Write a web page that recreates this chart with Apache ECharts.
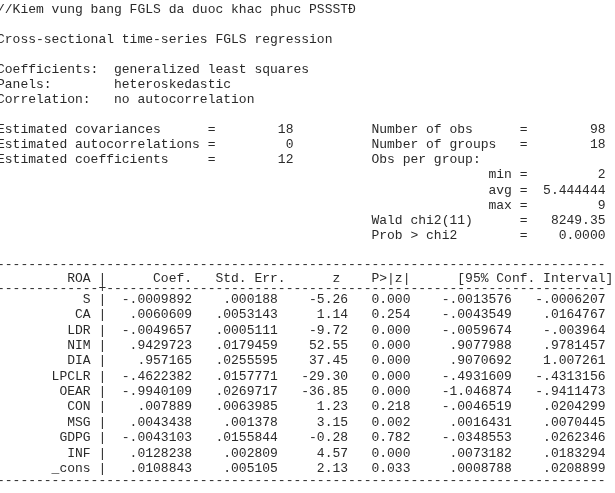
<!DOCTYPE html>
<html><head><meta charset="utf-8">
<script src="https://cdn.jsdelivr.net/npm/echarts@6/dist/echarts.min.js"></script>
<style>html,body{margin:0;padding:0;background:#fff}#c{width:615px;height:493px}</style>
</head><body><div id="c"></div>
<script>
// ---- data ----
const title = "//Kiem vung bang FGLS da duoc khac phuc PSSSTĐ";
const subtitle = "Cross-sectional time-series FGLS regression";
const modelInfo = [["Coefficients:", "generalized least squares"], ["Panels:", "heteroskedastic"], ["Correlation:", "no autocorrelation"]];
const leftStats = [["Estimated covariances", "18"], ["Estimated autocorrelations", "0"], ["Estimated coefficients", "12"]];
const rightStats = [["Number of obs", "98"], ["Number of groups", "18"], ["Obs per group:", null]];
const groupStats = [["min", "2"], ["avg", "5.444444"], ["max", "9"]];
const testStats = [["Wald chi2(11)", "8249.35"], ["Prob > chi2", "0.0000"]];
const depVar = "ROA";
const colHeads = ["Coef.", "Std. Err.", "z", "P>|z|", "[95% Conf. Interval]"];
const vars = ["S", "CA", "LDR", "NIM", "DIA", "LPCLR", "OEAR", "CON", "MSG", "GDPG", "INF", "_cons"];
const coef = ["-.0009892", ".0060609", "-.0049657", ".9429723", ".957165", "-.4622382", "-.9940109", ".007889", ".0043438", "-.0043103", ".0128238", ".0108843"];
const stdErr = [".000188", ".0053143", ".0005111", ".0179459", ".0255595", ".0157771", ".0269717", ".0063985", ".001378", ".0155844", ".002809", ".005105"];
const zVal = ["-5.26", "1.14", "-9.72", "52.55", "37.45", "-29.30", "-36.85", "1.23", "3.15", "-0.28", "4.57", "2.13"];
const pVal = ["0.000", "0.254", "0.000", "0.000", "0.000", "0.000", "0.000", "0.218", "0.002", "0.782", "0.000", "0.033"];
const ciLow = ["-.0013576", "-.0043549", "-.0059674", ".9077988", ".9070692", "-.4931609", "-1.046874", "-.0046519", ".0016431", "-.0348553", ".0073182", ".0008788"];
const ciHigh = ["-.0006207", ".0164767", "-.003964", ".9781457", "1.007261", "-.4313156", "-.9411473", ".0204299", ".0070445", ".0262346", ".0183294", ".0208899"];

// ---- layout ----
const L = (s, n) => s.padEnd(n), R = (s, n) => s.padStart(n);
const lines = [];
const add = (t, y) => lines.push({t, y});
add(title, 10);
add(subtitle, 40);
modelInfo.forEach((m, i) => add(L(m[0], 15) + m[1], 70 + i * 15.1));
for (let i = 0; i < 3; i++) {
  let s = L(leftStats[i][0], 27) + "=" + R(leftStats[i][1], 10) + " ".repeat(10);
  s += rightStats[i][1] === null ? rightStats[i][0] : L(rightStats[i][0], 19) + "=" + R(rightStats[i][1], 10);
  add(s, 130 + i * 15.1);
}
groupStats.forEach((g, i) => add(R(g[0], 66) + " =" + R(g[1], 10), 175.5 + i * 15.1));
testStats.forEach((g, i) => add(" ".repeat(48) + L(g[0], 19) + "=" + R(g[1], 10), 221 + i * 15.1));
add("-".repeat(78), 265);
add(R(depVar, 12) + " |" + R(colHeads[0], 11) + R(colHeads[1], 12) + R(colHeads[2], 7) + R(colHeads[3], 9) + R(colHeads[4], 26), 279);
add("-".repeat(13) + "+" + "-".repeat(64), 289);
vars.forEach((v, i) => add(R(v, 12) + " |" + R(coef[i], 11) + R(stdErr[i], 11) + R(zVal[i], 9) + R(pVal[i], 8) + R(ciLow[i], 13) + R(ciHigh[i], 12), 300 + i * 15.36));
add("-".repeat(78), 481);

const chart = echarts.init(document.getElementById('c'));
chart.setOption({
  backgroundColor: '#fff',
  graphic: lines.map(l => ({
    type: 'text', left: -3, top: l.y - 7,
    style: {text: l.t, font: '13px "Liberation Mono", "DejaVu Sans Mono", monospace', fill: '#2a2a2a', textVerticalAlign: 'top'}
  }))
});
</script></body></html>
